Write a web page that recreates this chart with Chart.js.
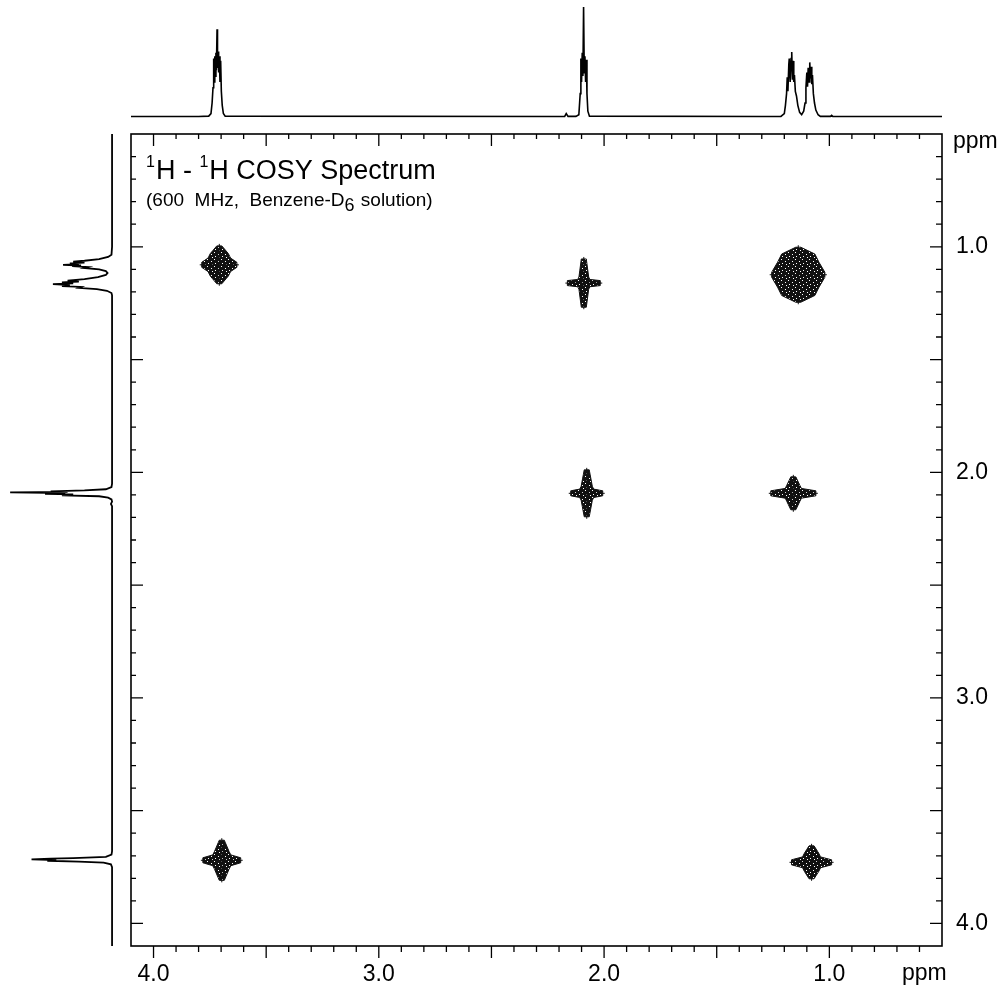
<!DOCTYPE html>
<html>
<head>
<meta charset="utf-8">
<script src="https://cdn.jsdelivr.net/npm/chart.js@4.4.1/dist/chart.umd.min.js"></script>
<style>
  html, body { margin: 0; padding: 0; background: #fff; }
  #wrap { position: relative; width: 1003px; height: 995px; }
  canvas { position: absolute; }
  #main { left: 0; top: 0; }
  #topSpec { left: 131px; top: 0; }
  #leftSpec { left: 0; top: 134px; }
</style>
</head>
<body>
<div id="wrap">
  <canvas id="main" width="1003" height="995"></canvas>
  <canvas id="topSpec" width="811" height="120"></canvas>
  <canvas id="leftSpec" width="116" height="812"></canvas>
</div>
<script>
// ppm range shown on both axes
const ppmMin = 0.5;
const ppmMax = 4.1;
const tickLabels = [4.0, 3.0, 2.0, 1.0];

// 1D projection on top: [ppm, relative intensity]
const topTrace = [
  [4.10, 0.005], [3.80, 0.005], [3.755, 0.008], [3.745, 0.03], [3.740, 0.12],
  [3.736, 0.25], [3.733, 0.50], [3.731, 0.30], [3.728, 0.52], [3.726, 0.35],
  [3.723, 0.55], [3.721, 0.40], [3.718, 0.75], [3.716, 0.42], [3.713, 0.56],
  [3.711, 0.38], [3.708, 0.52], [3.705, 0.30], [3.702, 0.48], [3.699, 0.22],
  [3.695, 0.10], [3.690, 0.03], [3.682, 0.008],
  [2.20, 0.005], [2.175, 0.006], [2.168, 0.03], [2.160, 0.006], [2.125, 0.006],
  [2.112, 0.02], [2.106, 0.20], [2.103, 0.50], [2.100, 0.30], [2.097, 0.55],
  [2.094, 0.35], [2.091, 0.94], [2.088, 0.38], [2.085, 0.52], [2.082, 0.30],
  [2.079, 0.49], [2.076, 0.20], [2.072, 0.05], [2.065, 0.008],
  [1.30, 0.005], [1.215, 0.006], [1.200, 0.03], [1.195, 0.10], [1.190, 0.20],
  [1.187, 0.34], [1.184, 0.22], [1.180, 0.45], [1.178, 0.50], [1.174, 0.30],
  [1.170, 0.50], [1.167, 0.556], [1.164, 0.32], [1.161, 0.48], [1.158, 0.30],
  [1.155, 0.36], [1.151, 0.22], [1.146, 0.18], [1.140, 0.10], [1.132, 0.04],
  [1.123, 0.02], [1.114, 0.05], [1.108, 0.12], [1.104, 0.25], [1.100, 0.38],
  [1.097, 0.26], [1.094, 0.42], [1.090, 0.30], [1.087, 0.467], [1.084, 0.33],
  [1.081, 0.43], [1.078, 0.28], [1.075, 0.36], [1.071, 0.20], [1.066, 0.12],
  [1.060, 0.06], [1.050, 0.02], [1.040, 0.006], [0.995, 0.006], [0.990, 0.015],
  [0.985, 0.006], [0.50, 0.005]
];

// 1D projection on the left: [ppm, relative intensity]
const leftTrace = [
  [0.50, 0.005], [1.00, 0.005], [1.035, 0.01], [1.045, 0.04], [1.055, 0.12],
  [1.062, 0.25], [1.066, 0.35], [1.070, 0.25], [1.074, 0.38], [1.077, 0.30],
  [1.080, 0.44], [1.083, 0.28], [1.086, 0.36], [1.090, 0.22], [1.094, 0.25],
  [1.100, 0.12], [1.108, 0.06], [1.116, 0.045], [1.125, 0.06], [1.135, 0.13],
  [1.143, 0.25], [1.150, 0.40], [1.154, 0.30], [1.158, 0.45], [1.162, 0.35],
  [1.166, 0.53], [1.170, 0.38], [1.174, 0.45], [1.178, 0.28], [1.182, 0.30],
  [1.188, 0.14], [1.195, 0.05], [1.205, 0.01], [1.215, 0.005],
  [2.05, 0.005], [2.065, 0.01], [2.075, 0.06], [2.080, 0.25], [2.084, 0.55],
  [2.087, 0.40], [2.089, 0.91], [2.092, 0.42], [2.095, 0.60], [2.098, 0.35],
  [2.102, 0.45], [2.106, 0.12], [2.112, 0.04], [2.120, 0.01], [2.130, 0.005],
  [2.140, 0.015], [2.150, 0.005],
  [3.68, 0.005], [3.695, 0.01], [3.705, 0.06], [3.710, 0.35], [3.713, 0.55],
  [3.716, 0.72], [3.719, 0.50], [3.722, 0.58], [3.726, 0.30], [3.730, 0.08],
  [3.738, 0.015], [3.75, 0.005], [4.10, 0.005]
];

// COSY contour peaks: centre (F2, F1) and extents, all in ppm
const crossF2 = [3.708, 2.090, 1.138, 2.077, 1.160, 3.697, 1.079];
const crossF1 = [1.080, 1.161, 1.124, 2.093, 2.093, 3.720, 3.729];
const crossHalfW = [0.078, 0.073, 0.118, 0.071, 0.100, 0.084, 0.089];
const crossHalfH = [0.084, 0.107, 0.122, 0.104, 0.073, 0.089, 0.073];
const crossCore = [0.050, 0.027, 0.092, 0.031, 0.036, 0.040, 0.040];

const FONT = "'Liberation Sans', Arial, sans-serif";

// speckled fill so the contour clusters look like dense contour lines
function speckle() {
    const c = document.createElement('canvas');
    c.width = 7; c.height = 7;
    const g = c.getContext('2d');
    g.fillStyle = '#111';
    g.fillRect(0, 0, 7, 7);
    g.fillStyle = '#fff';
    g.fillRect(1, 2, 1, 1);
    g.fillRect(4, 0, 1, 1);
    g.fillRect(5, 4, 1, 1);
    g.fillRect(2, 5, 1, 1);
    return c;
}

const contourPlugin = {
    id: 'contours',
    afterDatasetsDraw(chart) {
        const ctx = chart.ctx;
        const x = chart.scales.x, y = chart.scales.y;
        ctx.save();
        ctx.fillStyle = ctx.createPattern(speckle(), 'repeat');
        ctx.strokeStyle = '#111';
        ctx.lineWidth = 1;
        crossF2.forEach((f2, i) => {
            const cx = x.getPixelForValue(f2);
            const cy = y.getPixelForValue(crossF1[i]);
            const hw = Math.abs(x.getPixelForValue(f2 + crossHalfW[i]) - cx);
            const hh = Math.abs(y.getPixelForValue(crossF1[i] + crossHalfH[i]) - cy);
            const c = Math.abs(x.getPixelForValue(f2 + crossCore[i]) - cx);
            const t = 2.5;
            ctx.beginPath();
            ctx.moveTo(cx - hw, cy - t);
            ctx.lineTo(cx - c, cy - c * 0.6);
            ctx.lineTo(cx - c * 0.8, cy - c);
            ctx.lineTo(cx - t, cy - hh);
            ctx.lineTo(cx + t, cy - hh);
            ctx.lineTo(cx + c * 0.8, cy - c);
            ctx.lineTo(cx + c, cy - c * 0.6);
            ctx.lineTo(cx + hw, cy - t);
            ctx.lineTo(cx + hw, cy + t);
            ctx.lineTo(cx + c, cy + c * 0.6);
            ctx.lineTo(cx + c * 0.8, cy + c);
            ctx.lineTo(cx + t, cy + hh);
            ctx.lineTo(cx - t, cy + hh);
            ctx.lineTo(cx - c * 0.8, cy + c);
            ctx.lineTo(cx - c, cy + c * 0.6);
            ctx.lineTo(cx - hw, cy + t);
            ctx.closePath();
            ctx.fill();
            ctx.stroke();
            // thin streaks along the arms
            ctx.beginPath();
            ctx.moveTo(cx - hw - 2, cy); ctx.lineTo(cx + hw + 2, cy);
            ctx.moveTo(cx, cy - hh - 2); ctx.lineTo(cx, cy + hh + 2);
            ctx.stroke();
        });
        ctx.restore();
    }
};

const framePlugin = {
    id: 'frame',
    afterDraw(chart) {
        const ctx = chart.ctx;
        const a = chart.chartArea;
        const x = chart.scales.x, y = chart.scales.y;
        ctx.save();
        ctx.strokeStyle = '#000';
        ctx.lineWidth = 1.6;
        ctx.strokeRect(a.left, a.top, a.right - a.left, a.bottom - a.top);
        ctx.lineWidth = 1.3;
        ctx.beginPath();
        for (let k = 6; k <= 40; k++) {
            const v = k / 10;
            const major = k % 5 === 0;
            const px = x.getPixelForValue(v);
            const py = y.getPixelForValue(v);
            ctx.moveTo(px, a.top); ctx.lineTo(px, a.top + (major ? 12 : 5));
            ctx.moveTo(px, a.bottom); ctx.lineTo(px, a.bottom + (major ? 12 : 6));
            ctx.moveTo(a.left, py); ctx.lineTo(a.left + (major ? 12 : 5), py);
            ctx.moveTo(a.right, py); ctx.lineTo(a.right - (major ? 12 : 6), py);
        }
        ctx.stroke();

        // titles
        ctx.fillStyle = '#000';
        ctx.textBaseline = 'alphabetic';
        let tx = a.left + 15;
        ctx.font = '16px ' + FONT;
        ctx.fillText('1', tx, 167); tx += ctx.measureText('1').width + 1;
        ctx.font = '27px ' + FONT;
        ctx.fillText('H - ', tx, 179); tx += ctx.measureText('H - ').width;
        ctx.font = '16px ' + FONT;
        ctx.fillText('1', tx, 167); tx += ctx.measureText('1').width + 1;
        ctx.font = '27px ' + FONT;
        ctx.fillText('H COSY Spectrum', tx, 179);

        tx = a.left + 15;
        ctx.font = '19px ' + FONT;
        ctx.fillText('(600  MHz,  Benzene-D', tx, 206);
        tx += ctx.measureText('(600  MHz,  Benzene-D').width;
        ctx.font = '18px ' + FONT;
        ctx.fillText('6', tx, 211); tx += ctx.measureText('6').width + 1;
        ctx.font = '19px ' + FONT;
        ctx.fillText(' solution)', tx, 206);

        ctx.font = '23px ' + FONT;
        ctx.fillText('ppm', 953, 148);
        ctx.fillText('ppm', 902, 980);
        ctx.restore();
    }
};

const tickFont = { family: FONT, size: 23 };

new Chart(document.getElementById('main'), {
    type: 'scatter',
    data: {
        datasets: [{
            data: crossF2.map((v, i) => ({ x: v, y: crossF1[i] })),
            pointRadius: 0
        }]
    },
    options: {
        responsive: false,
        animation: false,
        layout: { padding: { left: 131, top: 134, right: 0, bottom: 0 } },
        plugins: { legend: { display: false }, tooltip: { enabled: false } },
        scales: {
            x: {
                type: 'linear', position: 'bottom', min: ppmMin, max: ppmMax, reverse: true,
                afterFit: s => { s.height = 49; },
                afterBuildTicks: s => { s.ticks = tickLabels.map(v => ({ value: v })); },
                grid: { display: false, drawTicks: false },
                border: { display: false },
                ticks: { padding: 15, color: '#000', font: tickFont, maxRotation: 0, callback: v => Number(v).toFixed(1) }
            },
            y: {
                type: 'linear', position: 'right', min: ppmMin, max: ppmMax, reverse: true,
                afterFit: s => { s.width = 61; },
                afterBuildTicks: s => { s.ticks = tickLabels.map(v => ({ value: v })); },
                grid: { display: false, drawTicks: false },
                border: { display: false },
                ticks: { padding: 14, color: '#000', font: tickFont, callback: v => Number(v).toFixed(1) }
            }
        }
    },
    plugins: [contourPlugin, framePlugin]
});

new Chart(document.getElementById('topSpec'), {
    type: 'scatter',
    data: {
        datasets: [{
            data: topTrace.map(p => ({ x: p[0], y: p[1] })),
            showLine: true, borderColor: '#000', borderWidth: 1.6, pointRadius: 0, tension: 0
        }]
    },
    options: {
        responsive: false,
        animation: false,
        layout: { padding: 0 },
        plugins: { legend: { display: false }, tooltip: { enabled: false } },
        scales: {
            x: { display: false, min: ppmMin, max: ppmMax, reverse: true },
            y: { display: false, min: -0.025, max: 1 }
        }
    }
});

new Chart(document.getElementById('leftSpec'), {
    type: 'scatter',
    data: {
        datasets: [{
            data: leftTrace.map(p => ({ x: p[1], y: p[0] })),
            showLine: true, borderColor: '#000', borderWidth: 1.8, pointRadius: 0, tension: 0
        }]
    },
    options: {
        responsive: false,
        animation: false,
        layout: { padding: 0 },
        plugins: { legend: { display: false }, tooltip: { enabled: false } },
        scales: {
            x: { display: false, min: -0.03, max: 1, reverse: true },
            y: { display: false, min: ppmMin, max: ppmMax, reverse: true }
        }
    }
});
</script>
</body>
</html>
